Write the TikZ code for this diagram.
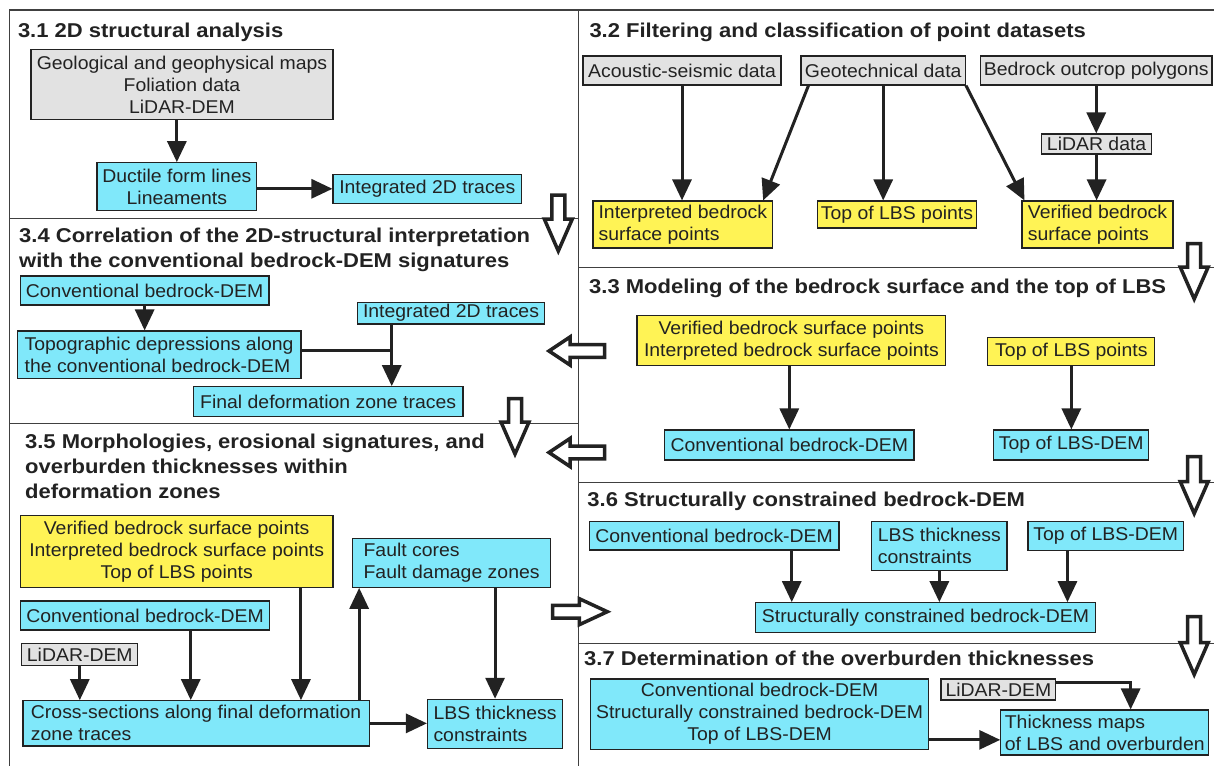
\documentclass[tikz,border=0pt]{standalone}
\usepackage{fontspec}
\setmainfont{Liberation Sans}
\newfontfamily\boxfamily{Liberation Sans}[FakeStretch=1.05]
\newfontfamily\titlefamily{Liberation Sans}[FakeStretch=1.1]
\usetikzlibrary{arrows.meta,calc}
\definecolor{cbox}{RGB}{128,232,250}
\definecolor{ybox}{RGB}{255,243,85}
\definecolor{gbox}{RGB}{226,226,226}
\definecolor{ink}{RGB}{34,34,34}
\definecolor{rulec}{RGB}{64,64,64}
\tikzset{
  bx/.style={draw=ink, line width=1.1pt, inner sep=0pt, text=ink,
    font=\boxfamily\fontsize{18.5}{22}\selectfont},
  cy/.style={bx, fill=cbox},
  yl/.style={bx, fill=ybox},
  gr/.style={bx, fill=gbox},
  ttl/.style={anchor=base west, inner sep=0pt, align=left, text=ink,
    font=\titlefamily\bfseries\fontsize{20}{24.8}\selectfont},
  con/.style={draw=ink, line width=3pt, -{Triangle[width=19pt,length=21pt]}},
  conline/.style={draw=ink, line width=3pt},
  hollow/.style={draw=ink, line width=3.5pt, fill=white, line join=miter},
  divider/.style={draw=rulec, line width=1.2pt},
}
% box from corners: name, style, x1, y1, x2, y2, text
\newcommand\Bx[7]{\node[#2, minimum width={(#5)-(#3)}, minimum height={(#6)-(#4)}]
  (#1) at ({((#3)+(#5))/2},{((#4)+(#6))/2}) {#7};}
% hollow arrows
\newcommand\HDown[3]{\draw[hollow] ({#1-6.5},#2) -- ({#1+6.5},#2) -- ({#1+6.5},#3)
  -- ({#1+14},#3) -- (#1,{#3+32}) -- ({#1-14},#3) -- ({#1-6.5},#3) -- cycle;}
\newcommand\HLeft[3]{\draw[hollow] (#2,{#1-6.3}) -- (#2,{#1+6.3}) -- (#3,{#1+6.3})
  -- (#3,{#1+14}) -- ({#3-21},#1) -- (#3,{#1-14}) -- (#3,{#1-6.3}) -- cycle;}
\newcommand\HRight[3]{\draw[hollow] (#2,{#1-6.3}) -- (#2,{#1+6.3}) -- (#3,{#1+6.3})
  -- (#3,{#1+13}) -- ({#3+28},#1) -- (#3,{#1-13}) -- (#3,{#1-6.3}) -- cycle;}

\begin{document}
\begin{tikzpicture}[x=1pt,y=-1pt]
\clip (0,0) rectangle (1214,765);
\fill[white] (0,0) rectangle (1214,765);

% frame and dividers
\draw[divider] (9.3,770) -- (9.3,10) -- (1220,10);
\draw[divider] (578.6,10) -- (578.6,770);
\draw[divider] (9.3,218.5) -- (578.6,218.5);
\draw[divider] (9.3,423.3) -- (578.6,423.3);
\draw[divider] (578.6,267.7) -- (1220,267.7);
\draw[divider] (578.6,482.3) -- (1220,482.3);
\draw[divider] (578.6,643.3) -- (1220,643.3);

% titles (base anchor = baseline of the last line)
\node[ttl] (t31) at (17.8,37.5) {3.1 2D structural analysis};
\node[ttl] (t32) at (589.3,37.5) {3.2 Filtering and classification of point datasets};
\node[ttl] (t34) at (19,267.3) {3.4 Correlation of the 2D-structural interpretation\\with the conventional bedrock-DEM signatures};
\node[ttl] (t33) at (589,293.3) {3.3 Modeling of the bedrock surface and the top of LBS};
\node[ttl] (t35) at (24.9,498.3) {3.5 Morphologies, erosional signatures, and\\overburden thicknesses within\\deformation zones};
\node[ttl] (t36) at (587.2,506.7) {3.6 Structurally constrained bedrock-DEM};
\node[ttl] (t37) at (584,665) {3.7 Determination of the overburden thicknesses};

% 3.1
\Bx{geo}{gr,align=center}{31}{49.3}{333}{119.3}{Geological and geophysical maps\\Foliation data\\LiDAR-DEM}
\Bx{duc}{cy,align=center}{97}{162.7}{256.7}{210.7}{Ductile form lines\\Lineaments}
\Bx{int1}{cy}{333}{174.3}{521.5}{203.3}{Integrated 2D traces}
\draw[con] (geo.south -| duc.north) -- (duc.north);
\draw[con] (int1.west -| duc.east) -- (int1.west);

% 3.2
\Bx{aco}{gr}{583}{56}{781}{85}{Acoustic-seismic data}
\Bx{geot}{gr}{801}{56}{965.4}{85}{Geotechnical data}
\Bx{bed}{gr}{980.5}{56}{1212}{85}{Bedrock outcrop polygons}
\Bx{lid}{gr}{1041.6}{134}{1151.6}{154}{LiDAR data}
\Bx{intp}{yl,align=left}{593}{201}{772.6}{248}{Interpreted bedrock\\surface points}
\Bx{toplbs}{yl}{817.5}{201}{976.4}{228}{Top of LBS points}
\Bx{ver}{yl,align=left}{1022}{201}{1173}{248}{Verified bedrock\\surface points}
\draw[con] (aco.south) -- (aco.south |- intp.north);
\draw[con] ($(geot.south west)+(8,0)$) -- ($(intp.north east)+(-10,0)$);
\draw[con] (geot.south) -- (geot.south |- toplbs.north);
\draw[con] (geot.south east) -- ($(ver.north west)+(3,0)$);
\draw[con] (bed.south) -- (bed.south |- lid.north);
\draw[con] (lid.south) -- (lid.south |- ver.north);

% 3.4
\Bx{conv4}{cy}{20.3}{276}{269}{305}{Conventional bedrock-DEM}
\Bx{topo}{cy,align=left}{17.2}{331}{301}{378.3}{Topographic depressions along\\the conventional bedrock-DEM}
\Bx{int4}{cy}{357.8}{302.3}{544.2}{324}{Integrated 2D traces}
\Bx{fin}{cy}{193.3}{386.7}{463}{416.7}{Final deformation zone traces}
\draw[con] (conv4.south) -- (conv4.south |- topo.north);
\coordinate (j4) at ($(int4.south west)+(34.5,0)$);
\coordinate (t4e) at ($(topo.east)+(0,-4.6)$);
\draw[conline] (t4e) -- (t4e -| j4);
\draw[con] (j4) -- (j4 |- fin.north);

% 3.3
\Bx{vi3}{yl,align=center}{637}{315.7}{945.8}{365.7}{Verified bedrock surface points\\Interpreted bedrock surface points}
\Bx{conv3}{cy}{664.6}{430}{914}{460}{Conventional bedrock-DEM}
\Bx{top3}{yl}{987.8}{337.7}{1154.9}{365.7}{Top of LBS points}
\Bx{lbsdem3}{cy}{993.5}{430}{1148.8}{460}{Top of LBS-DEM}
\draw[con] (vi3.south -| conv3.north) -- (conv3.north);
\draw[con] (top3.south) -- (top3.south |- lbsdem3.north);

% 3.5
\Bx{vi5}{yl,align=center}{20.3}{515.7}{333}{587.3}{Verified bedrock surface points\\Interpreted bedrock surface points\\Top of LBS points}
\Bx{fault}{cy,align=left}{352.9}{538.3}{550.3}{587.3}{Fault cores\\Fault damage zones}
\Bx{conv5}{cy}{20.3}{601}{269.8}{630}{Conventional bedrock-DEM}
\Bx{lid5}{gr}{21.8}{643.3}{137.8}{665.7}{LiDAR-DEM}
\Bx{cross}{cy,align=left}{23}{700.7}{369.3}{746}{Cross-sections along final deformation\\zone traces}
\Bx{lbs5}{cy,align=left}{427.5}{699.3}{562.6}{748.3}{LBS thickness\\constraints}
\draw[con] (lid5.south) -- (lid5.south |- cross.north);
\coordinate (c5a) at ($(conv5.south west)+(171,0)$);
\draw[con] (c5a) -- (c5a |- cross.north);
\coordinate (c5b) at ($(vi5.south east)+(-32.6,0)$);
\draw[con] (c5b) -- (c5b |- cross.north);
\coordinate (c5c) at ($(fault.south west)+(6.8,0)$);
\draw[con] (c5c |- cross.north) -- (c5c);
\draw[con] (lbs5.north |- fault.south) -- (lbs5.north);
\draw[con] (cross.east) -- (cross.east -| lbs5.west);

% 3.6
\Bx{conv6}{cy}{589.3}{521.7}{839}{550}{Conventional bedrock-DEM}
\Bx{lbst6}{cy,align=left}{871.7}{521.7}{1007}{570.7}{LBS thickness\\constraints}
\Bx{top6}{cy}{1028}{521.7}{1183.4}{550.7}{Top of LBS-DEM}
\Bx{scb}{cy}{755.5}{602.7}{1095.4}{632.3}{Structurally constrained bedrock-DEM}
\coordinate (c6a) at ($(conv6.south west)+(203,0)$);
\draw[con] (c6a) -- (c6a |- scb.north);
\draw[con] (lbst6.south) -- (lbst6.south |- scb.north);
\coordinate (c6b) at ($(top6.south west)+(40,0)$);
\draw[con] (c6b) -- (c6b |- scb.north);

% 3.7
\Bx{big7}{cy,align=center}{590.5}{679}{928.7}{749.3}{Conventional bedrock-DEM\\Structurally constrained bedrock-DEM\\Top of LBS-DEM}
\Bx{lid7}{gr}{941}{679}{1055.8}{700}{LiDAR-DEM}
\Bx{thick}{cy,align=left}{1000.8}{710}{1208.7}{755}{Thickness maps\\of LBS and overburden}
\coordinate (l7) at ($(lid7.north east)+(0,3.7)$);
\coordinate (t7) at ($(thick.north west)+(130.4,0)$);
\draw[con] (l7) -- (l7 -| t7) -- (t7);
\coordinate (b7) at ($(big7.south east)+(0,-10)$);
\draw[con] (b7) -- (b7 -| thick.west);

% hollow flow arrows between panels
\HDown{558.3}{195}{219}
\HDown{1194.2}{243.5}{267}
\HDown{515}{398.5}{422}
\HDown{1194.2}{456.7}{481.5}
\HDown{1194.2}{616.7}{642.5}
\HLeft{351}{604.7}{570}
\HLeft{452.5}{604.7}{570}
\HRight{611.7}{552.7}{579.3}
\end{tikzpicture}
\end{document}
